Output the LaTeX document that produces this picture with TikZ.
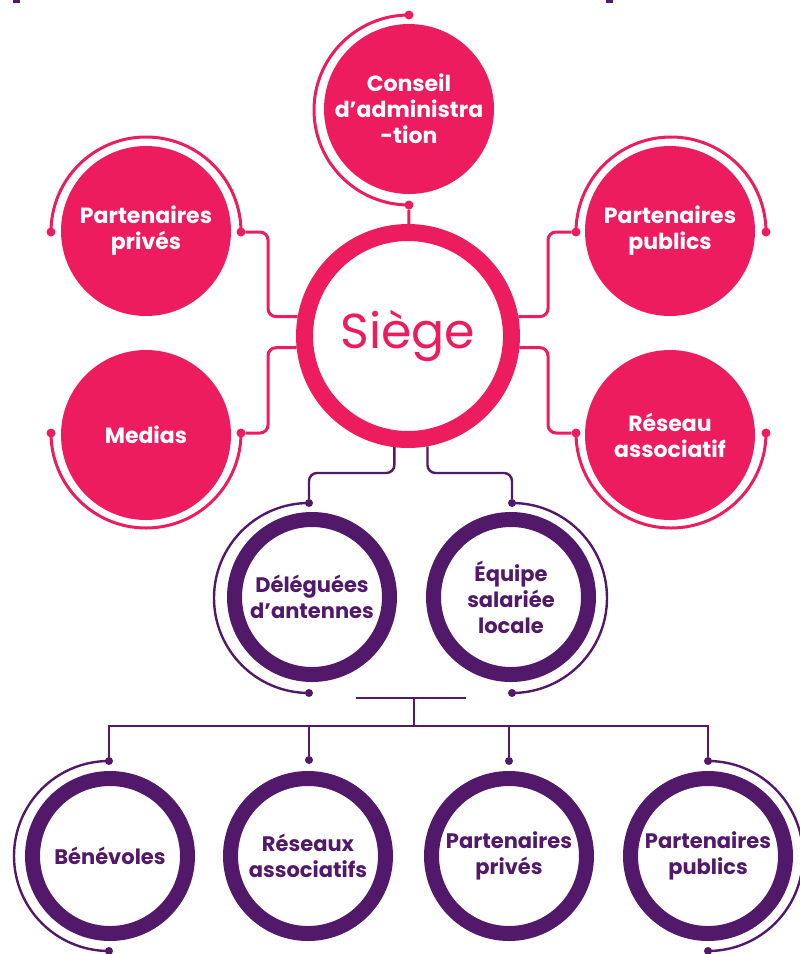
\documentclass[tikz,border=0pt]{standalone}
\usepackage{fontspec}
\setmainfont{Poppins}
\usetikzlibrary{calc}
\definecolor{rose}{HTML}{ED1C5E}
\definecolor{prune}{HTML}{52186A}

\begin{document}
\begin{tikzpicture}[x=1pt, y=-1pt,
  pinkdisc/.style={circle, fill=rose, minimum size=170pt, inner sep=0pt, text=white, align=center, font=\fontsize{22}{26}\selectfont\bfseries},
  purplering/.style={circle, draw=prune, line width=15pt, minimum size=155pt, inner sep=0pt, text=prune, align=center, font=\fontsize{21}{26}\selectfont\bfseries},
  pinkdot/.style={circle, fill=rose, minimum size=9pt, inner sep=0pt},
  purpledot/.style={circle, fill=prune, minimum size=8pt, inner sep=0pt},
  pinkline/.style={draw=rose, line width=3pt, rounded corners=8pt},
  purpleline/.style={draw=prune, line width=2.4pt, rounded corners=8pt},
  hubline/.style={draw=prune, line width=1.6pt}]
  \useasboundingbox (0,0) rectangle (800,954);
  % bits of the cut title
  \fill[prune] (13,0) rectangle (20,3);
  \fill[prune] (606,0) rectangle (613,3);
  % circles
  \node[pinkdisc] (0) at (409,109) {Conseil\\d’administra\\-tion};
  \node[circle, draw=rose, line width=17pt, minimum size=207pt, text=rose, font=\fontsize{49}{55}\selectfont] (1) at (408,336) {Siège};
  \node[pinkdisc] (2) at (146,231) {Partenaires\\privés};
  \node[pinkdisc] (3) at (146,435) {Medias};
  \node[pinkdisc] (4) at (670,231) {Partenaires\\publics};
  \node[pinkdisc] (5) at (670,435) {Réseau\\associatif};
  \node[purplering] (6) at (312,597) {Déléguées\\d’antennes};
  \node[purplering] (7) at (511,597) {Équipe\\salariée\\locale};
  \node[purplering] (8) at (110,856) {Bénévoles};
  \node[purplering] (9) at (308,856) {Réseaux\\associatifs};
  \node[purplering] (10) at (509,856) {Partenaires\\privés};
  \node[purplering] (11) at (708,856) {Partenaires\\publics};
  % dots
  \node[pinkdot] (0a) at (409,15) {};
  \node[pinkdot] (0b) at (409,205) {};
  \node[pinkdot] (2a) at (51,232) {};
  \node[pinkdot] (2b) at (241,232) {};
  \node[pinkdot] (3a) at (51,433) {};
  \node[pinkdot] (3b) at (241,433) {};
  \node[pinkdot] (4a) at (576,232) {};
  \node[pinkdot] (4b) at (766,232) {};
  \node[pinkdot] (5a) at (576,433) {};
  \node[pinkdot] (5b) at (766,433) {};
  \node[purpledot] (6a) at (309,503) {};
  \node[purpledot] (6b) at (309,693) {};
  \node[purpledot] (7a) at (512,503) {};
  \node[purpledot] (7b) at (512,693) {};
  \node[purpledot] (8a) at (109,761) {};
  \node[purpledot] (8b) at (109,951) {};
  \node[purpledot] (9a) at (309,760) {};
  \node[purpledot] (10a) at (509,761) {};
  \node[purpledot] (11a) at (708,761) {};
  \node[purpledot] (11b) at (708,951) {};
  \coordinate (h1) at (356,698);
  \coordinate (h2) at (466,698);
  \coordinate (h3) at (414,698);
  \coordinate (h4) at (414,726);
  % arcs round the circles
  \draw[pinkline] (0a.center) arc[start angle=270, end angle=90, radius=95];
  \draw[pinkline] (2a.center) arc[start angle=180, end angle=360, radius=95];
  \draw[pinkline] (3a.center) arc[start angle=180, end angle=0, radius=95];
  \draw[pinkline] (4a.center) arc[start angle=180, end angle=360, radius=95];
  \draw[pinkline] (5a.center) arc[start angle=180, end angle=0, radius=95];
  \draw[purpleline] (6a.center) arc[start angle=270, end angle=90, radius=95];
  \draw[purpleline] (7a.center) arc[start angle=-90, end angle=90, radius=95];
  \draw[purpleline] (8a.center) arc[start angle=270, end angle=90, radius=95];
  \draw[purpleline] (11a.center) arc[start angle=-90, end angle=90, radius=95];
  % links to the siege
  \draw[pinkline] (0b) -- (1);
  \draw[pinkline] (2b) -- ++(27,0) |- (1.170);
  \draw[pinkline] (3b) -- ++(27,0) |- (1.186);
  \draw[pinkline] (4a) -- ++(-28,0) |- (1.10);
  \draw[pinkline] (5a) -- ++(-28,0) |- (1.354);
  \draw[purpleline] (1.263) |- ($(6a)+(0,-30)$) -- (6a);
  \draw[purpleline] (1.280) |- ($(7a)+(0,-30)$) -- (7a);
  % lower level
  \draw[hubline] (h1) -- (h2);
  \draw[hubline] (h3) -- (h4);
  \draw[hubline] (8a) |- (h4) -| (11a);
  \draw[hubline] (9a) -- (9a |- h4);
  \draw[hubline] (10a) -- (10a |- h4);
\end{tikzpicture}
\end{document}
